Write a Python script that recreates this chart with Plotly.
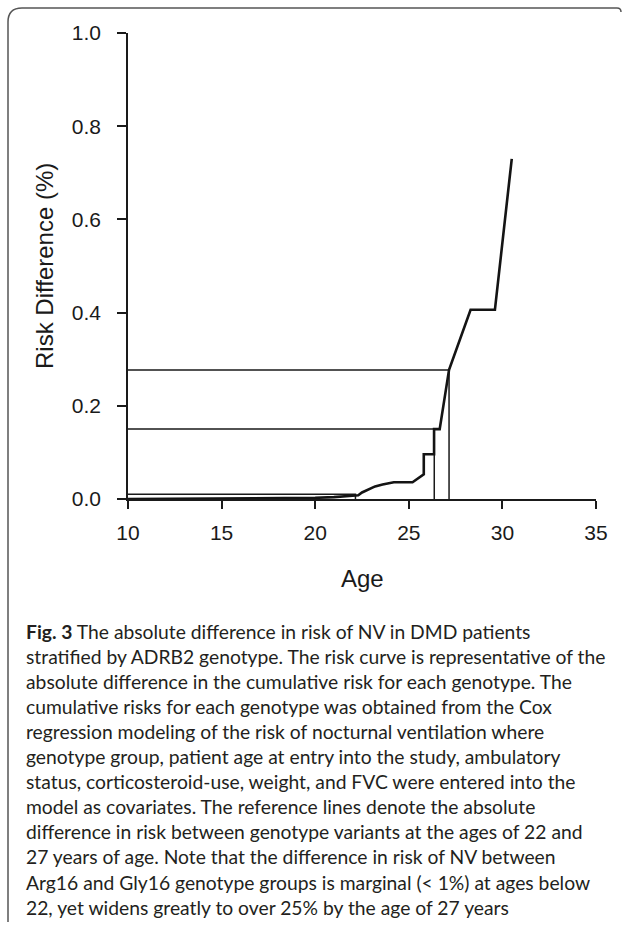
import plotly.graph_objects as go

# ---- data ----
ages = [10, 12, 14, 16, 18, 20, 21, 22, 22.3, 22.5, 22.8, 23.2, 23.6, 24.2, 25.2, 25.8,
        25.8, 26.35, 26.35, 26.65, 27.15, 28.3, 29.6, 30.5]
risk_diff = [0.0, 0.0002, 0.0005, 0.001, 0.0015, 0.0025, 0.004, 0.006, 0.008, 0.014, 0.02,
             0.027, 0.031, 0.036, 0.036, 0.053, 0.096, 0.096, 0.15, 0.15, 0.277, 0.406, 0.406, 0.73]

ref_ages = [22.15, 26.36, 27.15]
ref_vals = [0.01, 0.15, 0.277]

x_ticks = [10, 15, 20, 25, 30, 35]
y_ticks = [0.0, 0.2, 0.4, 0.6, 0.8, 1.0]

caption_lines = [
    "<b>Fig. 3</b> The absolute difference in risk of NV in DMD patients",
    "stratified by ADRB2 genotype. The risk curve is representative of the",
    "absolute difference in the cumulative risk for each genotype. The",
    "cumulative risks for each genotype was obtained from the Cox",
    "regression modeling of the risk of nocturnal ventilation where",
    "genotype group, patient age at entry into the study, ambulatory",
    "status, corticosteroid-use, weight, and FVC were entered into the",
    "model as covariates. The reference lines denote the absolute",
    "difference in risk between genotype variants at the ages of 22 and",
    "27 years of age. Note that the difference in risk of NV between",
    "Arg16 and Gly16 genotype groups is marginal (< 1%) at ages below",
    "22, yet widens greatly to over 25% by the age of 27 years",
]

# ---- layout geometry (pixels) ----
W, H = 627, 925
L, R, T, B = 128, 596, 33, 499  # plot area edges


def px(x):
    return (x - L) / (R - L)


def py(y):
    return (B - y) / (B - T)


fig = go.Figure()

# reference lines
for a, v in zip(ref_ages, ref_vals):
    fig.add_trace(go.Scatter(x=[x_ticks[0], a, a], y=[v, v, 0], mode="lines",
                             line=dict(color="#1a1a1a", width=1.5), hoverinfo="skip",
                             showlegend=False))

# risk curve
fig.add_trace(go.Scatter(x=ages, y=risk_diff, mode="lines",
                         line=dict(color="#141414", width=2.6), showlegend=False))

ARIAL = "Arial, Liberation Sans, sans-serif"
axis_font = dict(family=ARIAL, size=21, color="#1a1a1a")

fig.update_layout(
    width=W, height=H,
    margin=dict(l=L, r=W - R, t=T, b=H - B),
    paper_bgcolor="white", plot_bgcolor="white",
    xaxis=dict(range=[10, 35], tickvals=x_ticks, ticktext=[str(t) for t in x_ticks],
               showline=True, linecolor="#1a1a1a", linewidth=1.5, ticks="outside",
               ticklen=8, tickcolor="#1a1a1a", tickwidth=1.5, showgrid=False,
               zeroline=False, tickfont=axis_font, ticklabelstandoff=6),
    yaxis=dict(range=[0, 1], tickvals=y_ticks, ticktext=[f"{t:.1f}" for t in y_ticks],
               showline=True, linecolor="#1a1a1a", linewidth=1.5, ticks="outside",
               ticklen=9, tickcolor="#1a1a1a", tickwidth=1.5, showgrid=False,
               zeroline=False, tickfont=axis_font, ticklabelstandoff=12),
)

# axis titles
fig.add_annotation(text="Risk Difference (%)", xref="paper", yref="paper",
                   x=px(44), y=py(266), xanchor="center", yanchor="middle",
                   showarrow=False, textangle=-90,
                   font=dict(family=ARIAL, size=24, color="#1a1a1a"))
fig.add_annotation(text="Age", xref="paper", yref="paper",
                   x=px(362), y=py(578), xanchor="center", yanchor="middle",
                   showarrow=False,
                   font=dict(family=ARIAL, size=24, color="#1a1a1a"))

# caption
y0, dy = 631, 25.1
for i, line in enumerate(caption_lines):
    fig.add_annotation(text=line, xref="paper", yref="paper",
                       x=px(24), y=py(y0 + i * dy), xanchor="left", yanchor="middle",
                       showarrow=False, align="left",
                       font=dict(family="Lato, Noto Sans, sans-serif", size=19.3, color="#231f20"))

# frame (rounded top-left corner, open bottom/right)
fl, ft, fb, fr = 8, 8, 922, 621
r = 14
path = (f"M {px(fl)},{py(fb)} L {px(fl)},{py(ft + r)} "
        f"Q {px(fl)},{py(ft)} {px(fl + r)},{py(ft)} "
        f"L {px(fr - 4)},{py(ft)} Q {px(fr)},{py(ft)} {px(fr)},{py(ft + 4)}")
fig.add_shape(type="path", path=path, xref="paper", yref="paper",
              line=dict(color="#555555", width=1.5))

fig.write_html("out.html")
